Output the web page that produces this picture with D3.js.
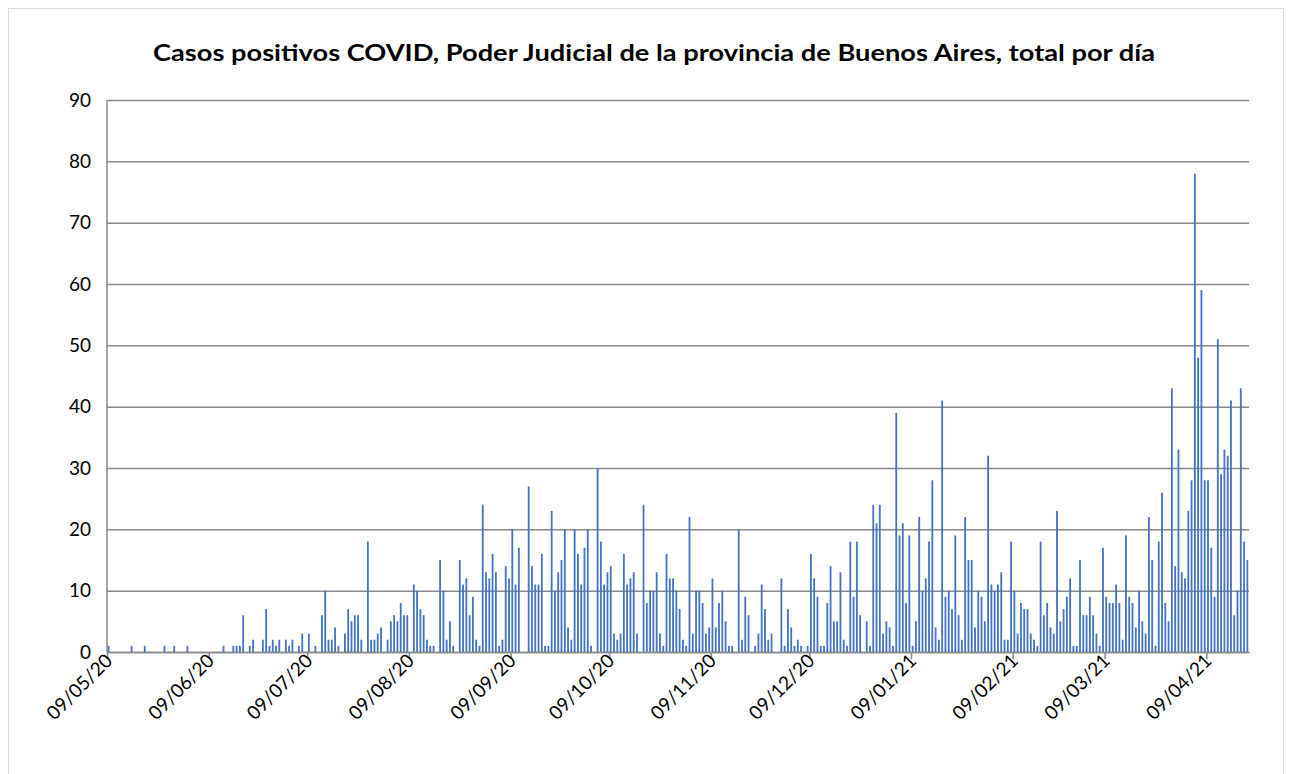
<!DOCTYPE html>
<html>
<head>
<meta charset="utf-8">
<script src="https://cdn.jsdelivr.net/npm/d3@7"></script>
<style>
  body { margin: 0; background: #fff; }
  text { font-family: Lato, "Open Sans", sans-serif; }
</style>
</head>
<body>
<div id="wrapper"></div>
<script>
// 0. Data: daily positive cases, one value per day starting 09/05/20
const startDate = "2020-05-09"
const endDate = "2021-04-22"   // exclusive, last bar is 21/04/21

const casesMay = [1,0,0,0,0,0,0,1,0,0,0,1,0,0,0,0,0,1,0,0,1,0,0]                 // 9-31 May
const casesJun = [0,1,0,0,0,0,0,0,0,0,0,0,1,0,0,1,1,1,6,0,1,2,0,0,2,7,1,2,1,2]
const casesJul = [0,2,1,2,0,1,3,0,3,0,1,0,6,10,2,2,4,1,0,3,7,5,6,6,2,0,18,2,2,3,4]
const casesAug = [0,2,5,6,5,8,6,6,0,11,10,7,6,2,1,1,0,15,10,2,5,1,0,15,11,12,6,9,2,1,24]
const casesSep = [13,12,16,13,1,2,14,12,20,11,17,0,0,27,14,11,11,16,1,1,23,10,13,15,20,4,2,20,16,11]
const casesOct = [17,20,1,0,30,18,11,13,14,3,2,3,16,11,12,13,3,0,24,8,10,10,13,3,1,16,12,12,10,7,2]
const casesNov = [1,22,3,10,10,8,3,4,12,4,8,10,5,1,1,0,20,2,9,6,0,1,3,11,7,2,3,0,0,12]
const casesDec = [1,7,4,1,2,1,0,1,16,12,9,1,1,8,14,5,5,13,2,1,18,9,18,6,0,5,1,24,21,24,3]
const casesJan = [5,4,1,39,19,21,8,19,1,5,22,10,12,18,28,4,2,41,9,10,7,19,6,2,22,15,15,4,10,9,5]
const casesFeb = [32,11,10,11,13,2,2,18,10,3,8,7,7,3,2,1,18,6,8,4,3,23,5,7,9,12,1,1]
const casesMar = [15,6,6,9,6,3,1,17,9,8,8,11,8,2,19,9,8,4,10,5,3,22,15,1,18,26,8,5,43,14,33]
const casesApr = [13,12,23,28,78,48,59,28,28,17,9,51,29,33,32,41,6,10,43,18,15]       // 1-21 Apr

const yTicks = [0, 10, 20, 30, 40, 50, 60, 70, 80, 90]
const xTickDates = ["2020-05-09","2020-06-09","2020-07-09","2020-08-09","2020-09-09",
  "2020-10-09","2020-11-09","2020-12-09","2021-01-09","2021-02-09","2021-03-09","2021-04-09"]

const title = "Casos positivos COVID, Poder Judicial de la provincia de Buenos Aires, total por día"

// 1. Build the daily series
const parse = d3.utcParse("%Y-%m-%d")
const allCases = [].concat(casesMay, casesJun, casesJul, casesAug, casesSep, casesOct,
  casesNov, casesDec, casesJan, casesFeb, casesMar, casesApr)
const dataset = allCases.map((v, i) => ({
  date: d3.utcDay.offset(parse(startDate), i),
  value: v
}))

// 2. Dimensions
let dimensions = {
  width: 1290,
  height: 774,
  margin: { top: 100, right: 41, bottom: 122, left: 107 },
}
dimensions.boundedWidth = dimensions.width - dimensions.margin.left - dimensions.margin.right
dimensions.boundedHeight = dimensions.height - dimensions.margin.top - dimensions.margin.bottom

// 3. Canvas
const wrapper = d3.select("#wrapper")
  .append("svg")
    .attr("width", dimensions.width)
    .attr("height", dimensions.height)

// chart border (bottom edge runs off the picture)
wrapper.append("rect")
    .attr("x", 8.5)
    .attr("y", 8.5)
    .attr("width", 1275)
    .attr("height", 780)
    .attr("fill", "#fff")
    .attr("stroke", "#d9d9d9")

const bounds = wrapper.append("g")
    .attr("transform", `translate(${dimensions.margin.left}, ${dimensions.margin.top})`)

// 4. Scales
const xScale = d3.scaleUtc()
  .domain([parse(startDate), parse(endDate)])
  .range([0, dimensions.boundedWidth])

const yScale = d3.scaleLinear()
  .domain([0, 90])
  .range([dimensions.boundedHeight, 0])

const dayWidth = xScale(d3.utcDay.offset(parse(startDate), 1)) - xScale(parse(startDate))

// 5. Peripherals (grid first, bars on top)
const gridColor = "#898989"

const yAxis = bounds.append("g")
  .call(d3.axisLeft(yScale).tickValues(yTicks).tickSize(-dimensions.boundedWidth).tickPadding(16))
yAxis.select(".domain").remove()
yAxis.selectAll(".tick line")
    .attr("stroke", gridColor)
    .attr("stroke-width", 1.5)
yAxis.selectAll(".tick text")
    .attr("font-size", 19)
    .attr("fill", "#000")
    .attr("font-family", "Lato, sans-serif")

bounds.append("line")
    .attr("x1", 0).attr("x2", 0)
    .attr("y1", 0).attr("y2", dimensions.boundedHeight)
    .attr("stroke", gridColor)
    .attr("stroke-width", 1.5)

// 6. Bars
bounds.append("g")
  .selectAll("rect")
  .data(dataset.filter(d => d.value > 0))
  .join("rect")
    .attr("x", d => xScale(d.date) + dayWidth / 2 - 0.9)
    .attr("width", 1.8)
    .attr("y", d => yScale(d.value))
    .attr("height", d => yScale(0) - yScale(d.value))
    .attr("fill", "#4472c4")

// x axis
const xAxis = bounds.append("g")
    .attr("transform", `translate(0, ${dimensions.boundedHeight})`)
  .call(d3.axisBottom(xScale)
    .tickValues(xTickDates.map(parse))
    .tickFormat(d3.utcFormat("%d/%m/%y"))
    .tickSize(7)
    .tickSizeOuter(0))
xAxis.select(".domain")
    .attr("stroke", gridColor)
    .attr("stroke-width", 1.5)
xAxis.selectAll(".tick line")
    .attr("stroke", gridColor)
    .attr("stroke-width", 1.5)
xAxis.selectAll(".tick text")
    .attr("font-size", 19)
    .attr("fill", "#000")
    .attr("font-family", "Lato, sans-serif")
    .attr("text-anchor", "end")
    .attr("dy", null)
    .attr("y", 0)
    .attr("transform", "translate(6, 10) rotate(-45)")

// title
wrapper.append("text")
    .attr("x", 654)
    .attr("y", 61)
    .attr("text-anchor", "middle")
    .attr("font-size", 23)
    .attr("font-weight", "bold")
    .attr("textLength", 1002)
    .attr("lengthAdjust", "spacingAndGlyphs")
    .text(title)
</script>
</body>
</html>
